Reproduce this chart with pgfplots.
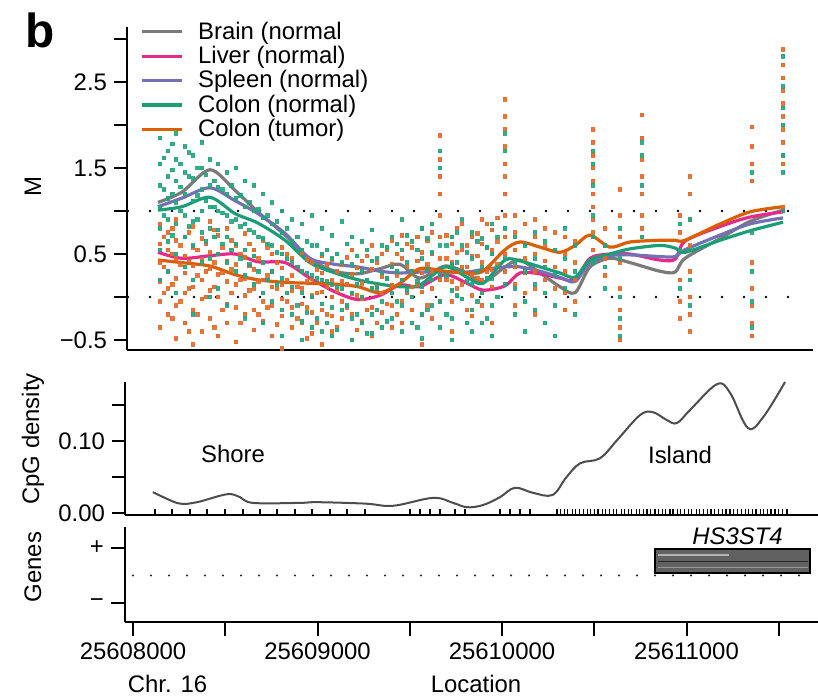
\documentclass[border=0pt]{standalone}
\usepackage{fontspec}
\setmainfont{Liberation Sans}
\usepackage{pgfplots}
\pgfplotsset{compat=1.18}
\definecolor{cBrain}{HTML}{7A7A7A}
\definecolor{cLiver}{HTML}{E7298A}
\definecolor{cSpleen}{HTML}{7570B3}
\definecolor{cColN}{HTML}{1B9E77}
\definecolor{cTum}{HTML}{D95F02}
\definecolor{cTumP}{HTML}{E2692A}
\definecolor{cColNP}{HTML}{25A47E}
\definecolor{cDens}{HTML}{4D4D4D}
\newcommand{\tf}{\fontsize{12}{13}\selectfont}
\begin{document}
\begin{tikzpicture}
\useasboundingbox (0bp,0bp) rectangle (409bp,348bp);
\pgfplotsset{every axis/.append style={
  scale only axis, clip=false,
  axis line style={line width=1.2bp,-},
  every tick/.style={line width=1bp,black},
  tick align=outside, major tick length=6.5bp,
  tick label style={font=\tf},
  axis x line*=bottom, axis y line*=left}}
% ---------------- top panel ----------------
\begin{axis}[at={(63.5bp,173bp)}, anchor=south west, width=343bp, height=161.5bp,
  xmin=-32.5, xmax=3685.6, ymin=-0.616, ymax=3.14,
  xtick=\empty, ytick={-0.5,0,0.5,1,1.5,2,2.5,3},
  yticklabels={−0.5,{},0.5,{},1.5,{},2.5,{}},
  legend image code/.code={\draw[#1,line width=1.6bp] (0bp,0bp) -- (20bp,0bp);},
  legend style={at={(0.0198,1.0229)}, anchor=north west, draw=none, fill=none,
    inner sep=0pt, outer sep=0pt, font=\tf, row sep=0bp,
    nodes={inner sep=1.2bp, text height=8.6bp, text depth=1.2bp},
    /tikz/every odd column/.append style={column sep=6bp}},
  legend cell align=left]
% scatter: colon tumor
\addplot[forget plot, cTumP, only marks, mark=square*, mark size=0.9bp, opacity=0.9] coordinates {
(146,0.85)(146,0.62)(146,0.40)(146,0.18)(146,-0.05)(146,-0.35)
(190,0.75)(190,0.55)(190,0.30)(190,0.10)(190,-0.20)
(233,0.90)(233,0.66)(233,0.45)(233,0.22)(233,-0.10)(233,-0.48)
(282,0.70)(282,0.48)(282,0.28)(282,0.05)(282,-0.30)
(325,0.82)(325,0.58)(325,0.36)(325,0.12)(325,-0.15)(325,-0.55)
(374,0.68)(374,0.44)(374,0.20)(374,-0.02)(374,-0.40)
(417,0.88)(417,0.52)(417,0.33)(417,0.08)(417,-0.25)
(461,0.72)(461,0.50)(461,0.26)(461,0.00)(461,-0.45)
(509,0.80)(509,0.42)(509,0.18)(509,-0.08)(509,-0.30)
(558,0.60)(558,0.38)(558,0.15)(558,-0.12)(558,-0.52)
(607,0.74)(607,0.46)(607,0.22)(607,0.02)(607,-0.20)
(656,0.55)(656,0.32)(656,0.10)(656,-0.15)(656,-0.38)
(705,0.66)(705,0.40)(705,0.20)(705,-0.05)(705,-0.28)
(753,0.50)(753,0.30)(753,0.12)(753,-0.10)(753,-0.45)
(808,0.58)(808,0.34)(808,0.15)(808,-0.02)(808,-0.22)(808,-0.60)
(862,0.45)(862,0.25)(862,0.08)(862,-0.12)(862,-0.35)
(916,0.52)(916,0.30)(916,0.10)(916,-0.08)(916,-0.30)
(970,0.40)(970,0.22)(970,0.02)(970,-0.18)(970,-0.42)
(1024,0.48)(1024,0.28)(1024,0.06)(1024,-0.15)(1024,-0.55)
(1079,0.44)(1079,0.20)(1079,0.00)(1079,-0.22)(1079,-0.40)
(1133,0.38)(1133,0.18)(1133,-0.05)(1133,-0.25)
(1187,0.55)(1187,0.26)(1187,0.04)(1187,-0.20)(1187,-0.50)
(1241,0.42)(1241,0.16)(1241,-0.02)(1241,-0.28)
(1295,0.60)(1295,0.32)(1295,0.10)(1295,-0.12)(1295,-0.45)
(1350,0.50)(1350,0.24)(1350,0.05)(1350,-0.18)
(1404,0.66)(1404,0.38)(1404,0.14)(1404,-0.10)(1404,-0.35)
(1458,0.72)(1458,0.45)(1458,0.20)(1458,-0.05)(1458,-0.30)
(1512,0.58)(1512,0.30)(1512,0.12)(1512,-0.15)
(1566,0.80)(1566,0.52)(1566,0.28)(1566,0.06)(1566,-0.20)(1566,-0.55)
(1664,1.88)(1664,1.60)(1664,1.40)(1664,1.20)(1664,0.95)(1664,0.70)(1664,0.45)(1664,0.20)(1664,-0.05)
(1621,0.75)(1621,0.50)(1621,0.30)(1621,0.10)(1621,-0.25)
(1729,0.62)(1729,0.40)(1729,0.18)(1729,-0.05)(1729,-0.40)
(1783,0.85)(1783,0.55)(1783,0.35)(1783,0.15)
(1837,0.70)(1837,0.48)(1837,0.25)(1837,0.02)(1837,-0.22)
(1892,0.90)(1892,0.62)(1892,0.40)(1892,0.20)(1892,-0.10)
(1946,0.78)(1946,0.55)(1946,0.32)(1946,0.12)(1946,-0.30)
(2016,2.30)(2016,2.10)(2016,1.95)(2016,1.75)(2016,1.55)(2016,1.40)(2016,1.20)(2016,0.95)(2016,0.70)(2016,0.50)(2016,0.30)
(2070,0.95)(2070,0.75)(2070,0.55)(2070,0.35)(2070,0.15)(2070,-0.10)
(2125,0.85)(2125,0.62)(2125,0.45)(2125,0.28)(2125,0.05)
(2179,0.90)(2179,0.70)(2179,0.50)(2179,0.30)(2179,0.10)(2179,-0.20)
(2233,0.80)(2233,0.60)(2233,0.42)(2233,0.20)
(2287,0.75)(2287,0.55)(2287,0.35)(2287,0.10)
(2341,0.70)(2341,0.50)(2341,0.30)(2341,0.05)(2341,-0.15)
(2396,0.65)(2396,0.40)(2396,0.20)(2396,-0.05)
(2493,1.95)(2493,1.80)(2493,1.65)(2493,1.50)(2493,1.35)(2493,1.20)(2493,1.05)(2493,0.90)(2493,0.75)(2493,0.55)
(2558,0.80)(2558,0.60)(2558,0.45)(2558,0.25)
(2640,1.25)(2640,0.95)(2640,0.70)(2640,0.40)(2640,0.10)(2640,-0.15)(2640,-0.35)(2640,-0.50)
(2759,2.12)(2759,1.85)(2759,1.60)(2759,1.40)(2759,1.20)(2759,0.95)(2759,0.80)
(2965,0.95)(2965,0.75)(2965,0.55)(2965,0.20)(2965,-0.05)(2965,-0.25)
(3019,1.40)(3019,1.20)(3019,0.90)(3019,0.60)(3019,0.30)(3019,0.00)(3019,-0.20)(3019,-0.40)
(3355,1.98)(3355,1.75)(3355,1.55)(3355,1.35)(3355,0.40)(3355,0.10)(3355,-0.10)(3355,-0.30)(3355,-0.45)
(3523,2.88)(3523,2.70)(3523,2.55)(3523,2.40)(3523,2.25)(3523,2.10)(3523,1.95)(3523,1.80)(3523,1.65)(3523,1.55)(3523,1.05)(3523,1.00)
(168,0.70)(168,0.35)(168,0.05)
(212,0.80)(212,0.50)(212,0.15)(212,-0.25)
(258,0.60)(258,0.38)(258,-0.05)
(304,0.75)(304,0.42)(304,0.10)(304,-0.40)
(350,0.55)(350,0.25)(350,-0.20)
(396,0.62)(396,0.30)(396,0.00)
(440,0.78)(440,0.40)(440,0.12)(440,-0.35)
(485,0.58)(485,0.28)(485,-0.15)
(533,0.66)(533,0.32)(533,0.05)
(582,0.50)(582,0.20)(582,-0.30)
(630,0.62)(630,0.36)(630,0.08)
(680,0.45)(680,0.18)(680,-0.20)
(730,0.58)(730,0.25)(730,-0.12)
(780,0.40)(780,0.10)(780,-0.32)
(835,0.50)(835,0.20)(835,-0.05)
(890,0.35)(890,0.12)(890,-0.25)
(943,0.44)(943,0.18)(943,-0.12)(943,-0.48)
(997,0.32)(997,0.05)(997,-0.30)
(1050,0.38)(1050,0.12)(1050,-0.20)
(1106,0.30)(1106,0.08)(1106,-0.35)
(1160,0.46)(1160,0.15)(1160,-0.12)
(1214,0.34)(1214,0.02)(1214,-0.38)
(1268,0.48)(1268,0.20)(1268,-0.15)
(1322,0.40)(1322,0.12)(1322,-0.30)
(1377,0.55)(1377,0.22)(1377,-0.08)
(1431,0.50)(1431,0.25)(1431,-0.20)
(1485,0.62)(1485,0.35)(1485,0.05)
(1540,0.70)(1540,0.42)(1540,0.15)
(1594,0.66)(1594,0.38)(1594,-0.10)
(1700,0.72)(1700,0.45)(1700,0.20)
(1756,0.80)(1756,0.52)(1756,0.10)
(1810,0.60)(1810,0.35)(1810,-0.15)
(1865,0.74)(1865,0.48)(1865,0.22)
(1919,0.85)(1919,0.58)(1919,0.30)
(1975,0.92)(1975,0.65)(1975,0.38)
};
% scatter: colon normal
\addplot[forget plot, cColNP, only marks, mark=square*, mark size=0.9bp, opacity=0.9] coordinates {
(146,1.85)(146,1.55)(146,1.30)(146,1.05)(146,0.80)(146,0.55)(146,0.20)
(190,1.70)(190,1.40)(190,1.15)(190,0.90)(190,0.65)(190,0.30)
(233,1.90)(233,1.60)(233,1.35)(233,1.10)(233,0.85)(233,0.50)(233,0.05)
(282,1.75)(282,1.45)(282,1.20)(282,0.95)(282,0.70)(282,0.35)
(325,1.65)(325,1.38)(325,1.12)(325,0.88)(325,0.60)(325,0.20)(325,-0.20)
(374,1.80)(374,1.50)(374,1.25)(374,1.00)(374,0.75)(374,0.40)
(417,1.60)(417,1.30)(417,1.05)(417,0.80)(417,0.45)(417,0.00)
(461,1.55)(461,1.28)(461,1.00)(461,0.78)(461,0.50)(461,0.10)
(509,1.45)(509,1.20)(509,0.95)(509,0.70)(509,0.40)(509,-0.10)
(558,1.50)(558,1.15)(558,0.90)(558,0.62)(558,0.30)
(607,1.35)(607,1.05)(607,0.85)(607,0.55)(607,0.25)(607,-0.25)
(656,1.30)(656,1.00)(656,0.75)(656,0.48)(656,0.15)
(705,1.20)(705,0.92)(705,0.68)(705,0.40)(705,0.05)(705,-0.30)
(753,1.10)(753,0.85)(753,0.60)(753,0.30)(753,-0.05)
(808,1.00)(808,0.75)(808,0.50)(808,0.22)(808,-0.15)(808,-0.45)
(862,0.90)(862,0.65)(862,0.40)(862,0.12)(862,-0.20)
(916,0.85)(916,0.55)(916,0.30)(916,0.05)(916,-0.28)(916,-0.50)
(970,0.95)(970,0.60)(970,0.25)(970,0.00)(970,-0.35)
(1024,0.80)(1024,0.50)(1024,0.20)(1024,-0.08)(1024,-0.40)
(1079,0.72)(1079,0.45)(1079,0.15)(1079,-0.12)(1079,-0.45)
(1133,0.88)(1133,0.40)(1133,0.10)(1133,-0.15)
(1187,0.70)(1187,0.38)(1187,0.05)(1187,-0.25)(1187,-0.50)
(1241,0.65)(1241,0.30)(1241,0.00)(1241,-0.30)
(1295,0.78)(1295,0.42)(1295,0.10)(1295,-0.20)(1295,-0.42)
(1350,0.60)(1350,0.28)(1350,-0.05)(1350,-0.35)
(1404,0.70)(1404,0.35)(1404,0.05)(1404,-0.25)
(1458,0.90)(1458,0.55)(1458,0.20)(1458,-0.10)(1458,-0.40)
(1512,0.65)(1512,0.30)(1512,0.00)(1512,-0.30)
(1566,0.80)(1566,0.45)(1566,0.12)(1566,-0.20)(1566,-0.48)
(1664,1.70)(1664,1.50)(1664,0.60)(1664,0.25)(1664,-0.05)(1664,-0.35)
(1621,0.85)(1621,0.52)(1621,0.20)(1621,-0.10)
(1729,0.70)(1729,0.38)(1729,0.08)(1729,-0.25)(1729,-0.50)
(1783,0.90)(1783,0.60)(1783,0.30)(1783,-0.02)
(1837,0.75)(1837,0.45)(1837,0.15)(1837,-0.15)(1837,-0.40)
(1892,0.68)(1892,0.35)(1892,0.05)(1892,-0.30)
(1946,0.85)(1946,0.50)(1946,0.22)(1946,-0.10)(1946,-0.45)
(2016,1.90)(2016,1.70)(2016,0.80)(2016,0.45)(2016,0.15)
(2070,0.70)(2070,0.40)(2070,0.10)(2070,-0.20)
(2125,0.60)(2125,0.30)(2125,-0.05)(2125,-0.40)
(2179,0.75)(2179,0.45)(2179,0.15)(2179,-0.15)
(2233,0.65)(2233,0.35)(2233,0.05)(2233,-0.30)
(2287,0.55)(2287,0.25)(2287,-0.10)(2287,-0.45)
(2341,0.80)(2341,0.45)(2341,0.10)
(2396,0.60)(2396,0.30)(2396,-0.20)
(2493,1.70)(2493,1.55)(2493,1.30)(2493,0.95)(2493,0.70)(2493,0.40)
(2558,0.60)(2558,0.35)(2558,0.10)
(2640,0.80)(2640,0.45)(2640,0.00)(2640,-0.25)(2640,-0.45)
(2759,1.80)(2759,1.65)(2759,1.30)(2759,0.70)
(2965,0.85)(2965,0.55)(2965,0.10)
(3019,0.90)(3019,0.55)(3019,0.20)(3019,-0.10)
(3355,1.45)(3355,0.75)(3355,0.30)(3355,-0.05)(3355,-0.35)
(3523,2.80)(3523,2.45)(3523,2.20)(3523,2.00)(3523,1.65)(3523,1.45)(3523,1.00)
(168,1.62)(168,1.25)(168,0.95)
(212,1.78)(212,1.48)(212,1.20)(212,0.72)
(258,1.55)(258,1.28)(258,1.00)
(304,1.68)(304,1.40)(304,0.82)
(350,1.50)(350,1.18)(350,0.90)
(396,1.42)(396,1.12)(396,0.65)
(440,1.35)(440,1.05)(440,0.70)
(485,1.25)(485,0.98)(485,0.62)
(533,1.30)(533,0.88)(533,0.55)
(582,1.18)(582,0.82)(582,0.45)
(630,1.10)(630,0.78)(630,0.38)
(680,1.02)(680,0.70)(680,0.30)
(730,0.95)(730,0.62)(730,0.20)
(780,0.88)(780,0.52)(780,0.15)
(835,0.80)(835,0.45)(835,0.05)
(890,0.70)(890,0.35)(890,-0.10)
(943,0.65)(943,0.28)(943,-0.18)
(997,0.60)(997,0.22)(997,-0.25)
(1050,0.55)(1050,0.18)(1050,-0.30)
(1106,0.50)(1106,0.12)(1106,-0.38)
(1160,0.62)(1160,0.25)(1160,-0.10)
(1214,0.48)(1214,0.15)(1214,-0.20)
(1268,0.55)(1268,0.20)(1268,-0.42)
(1322,0.45)(1322,0.10)(1322,-0.15)
(1377,0.58)(1377,0.22)(1377,-0.28)
(1431,0.62)(1431,0.30)(1431,-0.05)
(1485,0.72)(1485,0.40)(1485,0.08)
(1540,0.55)(1540,0.18)(1540,-0.35)
(1594,0.68)(1594,0.32)(1594,-0.15)
(1700,0.60)(1700,0.25)(1700,-0.20)
(1756,0.75)(1756,0.40)(1756,0.02)
(1810,0.52)(1810,0.18)(1810,-0.30)
(1865,0.65)(1865,0.30)(1865,-0.05)
(1919,0.58)(1919,0.22)(1919,-0.25)
(1975,0.70)(1975,0.35)(1975,0.00)
};
% reference lines
\addplot[forget plot, black, line width=1.4bp, dash pattern=on 0bp off 11bp, line cap=round] coordinates {(-27,1)(3658,1)};
\addplot[forget plot, black, line width=1.4bp, dash pattern=on 0bp off 11bp, line cap=round] coordinates {(-27,0)(3658,0)};
% smoothed lines
\addplot[cBrain, line width=1.6bp, smooth, tension=0.5] coordinates {
(135,1.10)(265,1.22)(417,1.48)(553,1.24)(677,0.99)(824,0.72)(959,0.44)(1095,0.30)(1219,0.27)(1339,0.33)(1447,0.38)(1555,0.22)(1691,0.36)(1810,0.28)(1897,0.17)(2016,0.35)(2097,0.43)(2206,0.28)(2314,0.12)(2396,0.05)(2477,0.35)(2585,0.45)(2694,0.40)(2856,0.30)(2938,0.29)(2992,0.45)(3182,0.68)(3344,0.88)(3523,1.01)};
\addlegendentry{Brain (normal}
\addplot[cLiver, line width=1.6bp, smooth, tension=0.5] coordinates {
(135,0.52)(265,0.45)(417,0.48)(553,0.50)(677,0.41)(824,0.40)(959,0.22)(1095,0.06)(1219,-0.03)(1339,0.02)(1447,0.14)(1555,0.12)(1691,0.26)(1810,0.16)(1897,0.08)(2016,0.13)(2097,0.28)(2206,0.27)(2314,0.22)(2396,0.20)(2477,0.45)(2585,0.50)(2694,0.50)(2856,0.43)(2938,0.44)(2992,0.65)(3182,0.82)(3344,0.93)(3523,0.99)};
\addlegendentry{Liver (normal)}
\addplot[cSpleen, line width=1.6bp, smooth, tension=0.5] coordinates {
(135,1.05)(265,1.15)(417,1.27)(553,1.12)(677,0.97)(824,0.74)(959,0.45)(1095,0.38)(1219,0.35)(1339,0.30)(1447,0.28)(1555,0.29)(1691,0.29)(1810,0.29)(1897,0.32)(2016,0.35)(2097,0.35)(2206,0.30)(2314,0.23)(2396,0.18)(2477,0.40)(2585,0.48)(2694,0.49)(2856,0.47)(2938,0.47)(2992,0.55)(3182,0.72)(3344,0.85)(3523,0.92)};
\addlegendentry{Spleen (normal)}
\addplot[cColN, line width=1.6bp, smooth, tension=0.5] coordinates {
(135,1.01)(265,1.05)(417,1.16)(553,0.97)(677,0.86)(824,0.66)(959,0.40)(1095,0.28)(1219,0.20)(1339,0.15)(1447,0.12)(1555,0.14)(1691,0.35)(1810,0.23)(1897,0.16)(2016,0.43)(2097,0.42)(2206,0.35)(2314,0.28)(2396,0.23)(2477,0.43)(2585,0.50)(2694,0.56)(2856,0.60)(2938,0.57)(2992,0.52)(3182,0.66)(3344,0.77)(3523,0.87)};
\addlegendentry{Colon (normal)}
\addplot[cTum, line width=1.6bp, smooth, tension=0.5] coordinates {
(135,0.43)(265,0.40)(417,0.36)(553,0.26)(677,0.20)(824,0.17)(959,0.16)(1095,0.15)(1219,0.12)(1339,0.05)(1447,0.16)(1555,0.33)(1691,0.30)(1810,0.28)(1897,0.30)(2016,0.55)(2097,0.64)(2206,0.58)(2314,0.52)(2396,0.60)(2477,0.72)(2585,0.58)(2694,0.64)(2856,0.66)(2938,0.66)(2992,0.66)(3182,0.85)(3344,0.99)(3523,1.05)};
\addlegendentry{Colon (tumor)}
\end{axis}
% ---------------- middle panel ----------------
\begin{axis}[at={(62.5bp,90.5bp)}, anchor=south west, width=346.5bp, height=66.5bp,
  xmin=-43.4, xmax=3712.7, ymin=-0.0028, ymax=0.182,
  xtick=\empty, ytick={0,0.05,0.1,0.15}, yticklabels={0.00,{},0.10,{}}]
\addplot[cDens, line width=1bp, smooth, tension=0.6] coordinates {
(108,0.029)(173,0.021)(255,0.013)(347,0.015)(509,0.026)(580,0.022)(650,0.014)(900,0.014)(1000,0.015)(1260,0.013)(1410,0.010)(1626,0.021)(1735,0.014)(1810,0.008)(1897,0.011)(1989,0.022)(2070,0.035)(2168,0.028)(2274,0.025)(2347,0.049)(2423,0.069)(2531,0.076)(2623,0.101)(2748,0.136)(2818,0.140)(2894,0.129)(2948,0.125)(3019,0.143)(3165,0.179)(3236,0.167)(3333,0.118)(3415,0.133)(3534,0.182)};
\addplot[only marks, mark=|, mark size=1.1bp, mark options={line width=0.6bp, black}] coordinates {
(119,0.002)(211,0.002)(309,0.002)(401,0.002)(499,0.002)(596,0.002)(688,0.002)(780,0.002)(878,0.002)(970,0.002)(1068,0.002)(1160,0.002)(1257,0.002)
(1501,0.002)(1556,0.002)(1610,0.002)(1664,0.002)(1745,0.002)(1799,0.002)
(1989,0.002)(2043,0.002)(2098,0.002)(2152,0.002)
(2298,0.002)(2315,0.002)(2340,0.002)(2356,0.002)(2380,0.002)(2398,0.002)(2421,0.002)(2440,0.002)(2462,0.002)(2479,0.002)(2503,0.002)(2520,0.002)(2544,0.002)(2561,0.002)(2583,0.002)(2605,0.002)(2622,0.002)(2646,0.002)(2664,0.002)(2685,0.002)(2703,0.002)(2727,0.002)(2744,0.002)(2768,0.002)(2786,0.002)(2805,0.002)(2829,0.002)(2846,0.002)(2870,0.002)(2888,0.002)(2910,0.002)(2927,0.002)(2951,0.002)(2969,0.002)(2990,0.002)(3012,0.002)(3029,0.002)(3053,0.002)(3071,0.002)(3094,0.002)(3112,0.002)(3133,0.002)(3151,0.002)(3175,0.002)(3193,0.002)(3214,0.002)(3236,0.002)(3255,0.002)(3277,0.002)(3296,0.002)(3318,0.002)(3335,0.002)(3358,0.002)(3377,0.002)(3399,0.002)(3417,0.002)(3440,0.002)(3458,0.002)(3480,0.002)(3499,0.002)(3521,0.002)(3545,0.002)};
\end{axis}
% ---------------- bottom panel ----------------
\begin{axis}[at={(62.5bp,37bp)}, anchor=south west, width=346.5bp, height=47.5bp,
  xmin=-43.4, xmax=3712.7, ymin=-1.69, ymax=1.76,
  xtick={0,500,1000,1500,2000,2500,3000,3500},
  xticklabels={25608000,{},25609000,{},25610000,{},25611000,{}},
  ytick={-1,1}, yticklabels={−,+}, major tick length=7bp]
\addplot[black!85, line width=1.2bp, dash pattern=on 0bp off 9bp, line cap=round] coordinates {(0,0)(3669,0)};
\addplot[draw=black, fill=black!62, line width=0.8bp] coordinates {(2829,0.09)(3669,0.09)(3669,0.96)(2829,0.96)} -- cycle;
\addplot[black!30, line width=0.9bp] coordinates {(2845,0.74)(3230,0.74)};
\addplot[black!85, line width=0.6bp] coordinates {(2845,0.50)(3660,0.50)};
\addplot[black!40, line width=0.6bp] coordinates {(2845,0.30)(3660,0.30)};
\end{axis}
% ---------------- text ----------------
\node[font=\fontsize{24}{24}\selectfont\bfseries] at (20bp,333bp) {b};
\node[font=\tf, rotate=90] at (16.5bp,254.5bp) {M};
\node[font=\tf, rotate=90] at (16.5bp,128.5bp) {CpG density};
\node[font=\tf, rotate=90] at (16.5bp,64.5bp) {Genes};
\node[font=\tf, anchor=base, inner sep=0pt] at (83.75bp,2bp) {Chr. 16};
\node[font=\tf, anchor=base, inner sep=0pt] at (238bp,1.6bp) {Location};
\node[font=\tf] at (116.5bp,121.25bp) {Shore};
\node[font=\tf] at (340bp,120.5bp) {Island};
\node[font=\tf\itshape] at (368.75bp,79.75bp) {HS3ST4};
\end{tikzpicture}
\end{document}
